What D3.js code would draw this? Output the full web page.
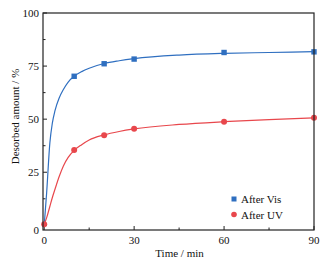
<!DOCTYPE html>
<html>
<head>
  <meta charset="utf-8">
  <script src="https://cdn.jsdelivr.net/npm/d3@7"></script>
  <style>
    body { margin: 0; background: white; }
    svg text { font-family: "Liberation Serif", "DejaVu Serif", serif; fill: #111; }
  </style>
</head>
<body>
  <script>
    // measured points (blue point at t=0 is hidden under the red one)
    const times = [0, 10, 20, 30, 60, 90]
    const visValues = [null, 70.2, 76.1, 78.3, 81.4, 81.7]
    const uvValues = [0.5, 35.5, 42.4, 45.5, 48.8, 50.7]

    // fitted curves
    const fitTimes = [0, 0.8, 1.9, 2.7, 3.6, 5, 6.4, 8, 10, 12.5, 15, 20, 25, 30, 45, 60, 75, 90]
    const visFit = [0, 15, 39, 48, 54, 60, 64, 67.5, 70.2, 72.4, 74, 76.2, 77.5, 78.5, 80.2, 81, 81.4, 81.8]
    const uvFit = [0.5, 3.5, 9, 13, 17, 23, 28, 32, 35.3, 38, 40.2, 42.6, 44.2, 45.4, 47.5, 48.8, 49.8, 50.6]

    const xTicks = [0, 30, 60, 90]
    const xMinor = [15, 45, 75]
    const yTicks = [0, 25, 50, 75, 100]
    const yMinor = [12.5, 37.5, 62.5, 87.5]
    const legendLabels = ['After Vis', 'After UV']

    const blue = '#2f6fc0'
    const red = '#e8474c'

    const W = 336, H = 269
    const m = { left: 43, right: 314, top: 13, bottom: 230 }

    const svg = d3.select('body').append('svg').attr('width', W).attr('height', H)

    const x = d3.scaleLinear().domain([-0.4, 90]).range([m.left, m.right])
    const y = d3.scaleLinear().domain([-2.2, 100]).range([m.bottom, m.top])

    // ticks (inward)
    const g = svg.append('g')
    xTicks.forEach(t => {
      g.append('line').attr('x1', x(t)).attr('x2', x(t)).attr('y1', m.bottom).attr('y2', m.bottom - 4)
        .attr('stroke', '#222').attr('stroke-width', 1)
      g.append('text').attr('x', x(t)).attr('y', m.bottom + 14).attr('text-anchor', 'middle')
        .attr('font-size', 11).text(t)
    })
    xMinor.forEach(t => {
      g.append('line').attr('x1', x(t)).attr('x2', x(t)).attr('y1', m.bottom).attr('y2', m.bottom - 2.5)
        .attr('stroke', '#222').attr('stroke-width', 1)
    })
    yTicks.forEach(v => {
      g.append('line').attr('x1', m.left).attr('x2', m.left + 4).attr('y1', y(v)).attr('y2', y(v))
        .attr('stroke', '#222').attr('stroke-width', 1)
      g.append('text').attr('x', m.left - 4).attr('y', v === 0 ? m.bottom + 4 : y(v) + 4)
        .attr('text-anchor', 'end').attr('font-size', 11).text(v)
    })
    yMinor.forEach(v => {
      g.append('line').attr('x1', m.left).attr('x2', m.left + 2.5).attr('y1', y(v)).attr('y2', y(v))
        .attr('stroke', '#222').attr('stroke-width', 1)
    })

    // curves
    const line = d3.line().x((d, i) => x(fitTimes[i])).y(d => y(d)).curve(d3.curveMonotoneX)
    svg.append('path').datum(uvFit).attr('d', line).attr('fill', 'none')
      .attr('stroke', red).attr('stroke-width', 1.2)
    svg.append('path').datum(visFit).attr('d', line).attr('fill', 'none')
      .attr('stroke', blue).attr('stroke-width', 1.2)

    // markers
    svg.selectAll('rect.vis').data(visValues).join('rect').attr('class', 'vis')
      .filter(d => d !== null)
      .attr('x', (d, i) => x(times[visValues.indexOf(d)]) - 2.7).attr('y', d => y(d) - 2.7)
      .attr('width', 5.4).attr('height', 5.4).attr('fill', blue)
    svg.selectAll('circle.uv').data(uvValues).join('circle').attr('class', 'uv')
      .attr('cx', (d, i) => x(times[i])).attr('cy', d => y(d))
      .attr('r', 3).attr('fill', red)

    // frame
    svg.append('rect').attr('x', m.left).attr('y', m.top)
      .attr('width', m.right - m.left).attr('height', m.bottom - m.top)
      .attr('fill', 'none').attr('stroke', '#222').attr('stroke-width', 1.2)

    // axis titles
    svg.append('text').attr('x', (m.left + m.right) / 2 + 1).attr('y', 257).attr('text-anchor', 'middle')
      .attr('font-size', 11).text('Time / min')
    svg.append('text').attr('transform', `translate(19,${(m.top + m.bottom) / 2 - 5}) rotate(-90)`)
      .attr('text-anchor', 'middle').attr('font-size', 11).text('Desorbed amount / %')

    // legend
    const lg = svg.append('g').attr('transform', 'translate(234,199)')
    lg.append('rect').attr('x', -2.5).attr('y', -2.5).attr('width', 5).attr('height', 5).attr('fill', blue)
    lg.append('circle').attr('cx', 0).attr('cy', 15.5).attr('r', 2.8).attr('fill', red)
    legendLabels.forEach((s, i) => {
      lg.append('text').attr('x', 7).attr('y', i * 15.5 + 4).attr('font-size', 11).text(s)
    })
  </script>
</body>
</html>
